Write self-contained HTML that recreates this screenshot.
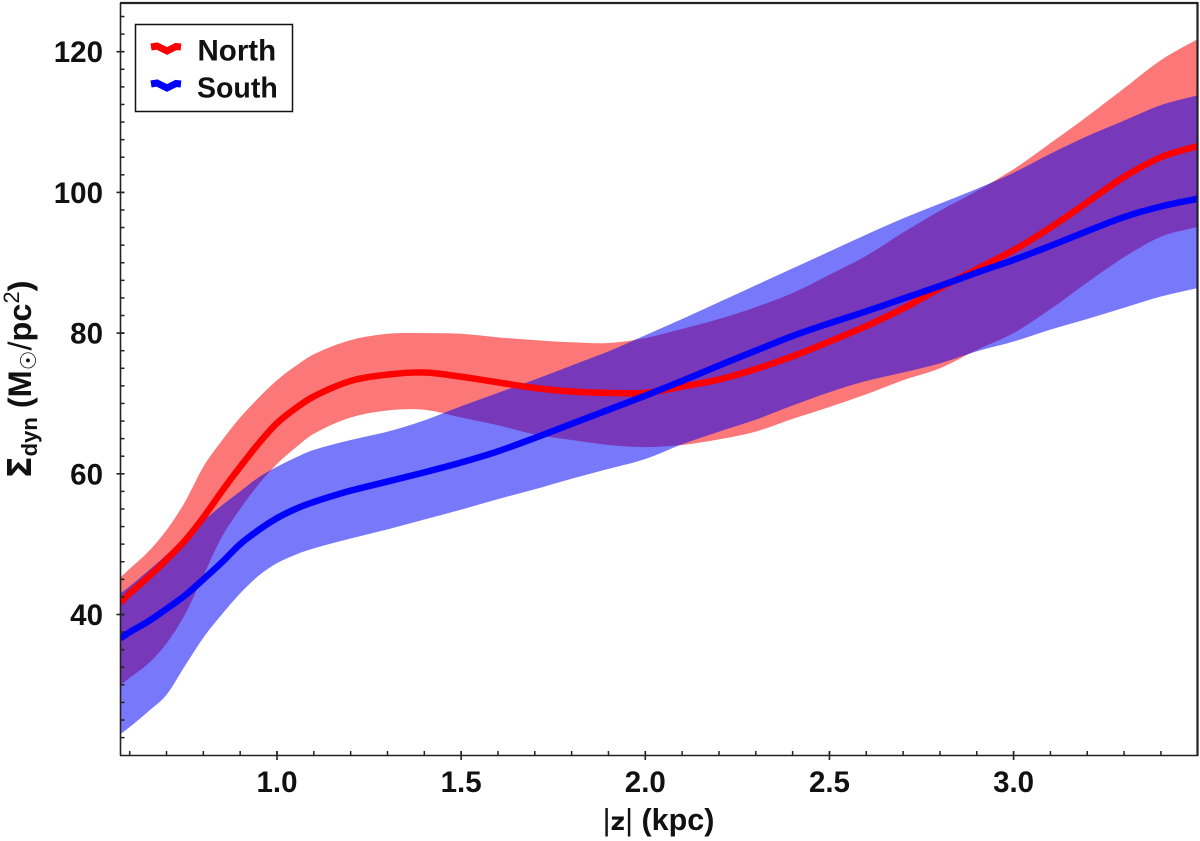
<!DOCTYPE html>
<html>
<head>
<meta charset="utf-8">
<title>Dynamical surface density</title>
<style>
html,body{margin:0;padding:0;background:#fff}
svg{display:block}
text{font-family:"Liberation Sans","DejaVu Sans",sans-serif;font-weight:bold;fill:#111}
</style>
</head>
<body>
<svg id="chart" xmlns="http://www.w3.org/2000/svg" width="1200" height="841" viewBox="0 0 1200 841">
  <defs><clipPath id="plot-clip"><rect x="120.5" y="3" width="1077" height="752.5"/></clipPath></defs>
  <g id="bands" clip-path="url(#plot-clip)"></g>
  <g id="lines" clip-path="url(#plot-clip)"></g>
  <g id="axes"></g>
  <g>
    <rect x="135.5" y="24.5" width="157" height="87" fill="#fff" stroke="#111" stroke-width="1.5"/>
    <polyline points="151,47 157,46 167,51 176,46.5 181,47" fill="none" stroke="#f00" stroke-width="7"/>
    <text x="197.5" y="60.5" font-size="29.5">North</text>
    <polyline points="151,84 157,83 167,88 176,83.5 181,84" fill="none" stroke="#00f" stroke-width="7"/>
    <text x="197" y="97.5" font-size="28.5">South</text>
  </g>
  <text x="658.5" y="830" font-size="30.5" text-anchor="middle"><tspan font-weight="normal">|</tspan><tspan font-family="'DejaVu Sans',sans-serif" font-size="25">z</tspan><tspan font-weight="normal">|</tspan> (kpc)</text>
  <text transform="translate(31,379.5) rotate(-90)" font-size="32.5" text-anchor="middle"><tspan font-family="'DejaVu Sans',sans-serif">Σ</tspan><tspan font-size="22" dy="6">dyn</tspan><tspan dy="-6"> (M</tspan><tspan font-size="22" dy="5" font-family="'DejaVu Sans',sans-serif" font-weight="normal">☉</tspan><tspan dy="-5" font-weight="normal">/</tspan><tspan>pc</tspan><tspan font-size="22" dy="-12" font-weight="normal">2</tspan><tspan dy="12">)</tspan></text>
</svg>
<script>
const zGrid = [0.575,0.6,0.65,0.7,0.75,0.8,0.85,0.9,0.95,1.0,1.05,1.1,1.2,1.3,1.4,1.5,1.6,1.7,1.8,1.9,2.0,2.1,2.2,2.3,2.4,2.5,2.6,2.7,2.8,2.9,3.0,3.1,3.2,3.3,3.4,3.5];
const northMid = [41.7,43,45.3,47.8,50.5,53.8,57.5,61,64.3,67.2,69.3,71,73.2,74.1,74.4,73.8,73,72.2,71.7,71.5,71.5,72.4,73.4,74.9,76.7,78.8,81,83.5,86.4,89.1,91.8,95,98.6,102.2,105,106.6];
const northUpper = [45.3,46.5,48.9,52,56,61,64.7,68,70.8,73.3,75.3,77,79,79.9,80,79.9,79.4,79,78.7,78.6,79.3,80.6,82,83.7,85.7,88.3,91,94.3,97.4,100.2,103.3,107,110.8,114.8,118.8,121.8];
const northLower = [30,31,33,35.9,40,45.5,51,55,58.5,61.4,63.7,65.7,68,69,69.1,68,66.9,65.6,64.8,64.1,63.8,64.1,64.9,66,67.8,69.5,71.3,73.3,75,77.6,80,83.4,87.2,90.8,93.7,95.1];
const southMid = [36.6,37.5,39,40.8,42.7,45,47.4,50,52,53.7,55,56,57.6,58.9,60.2,61.6,63.2,65.1,67.1,69.1,71.1,73.2,75.4,77.5,79.6,81.4,83.1,84.9,86.7,88.6,90.4,92.4,94.5,96.5,98,99.1];
const southUpper = [43,44,46.2,48.5,51,53.3,55.5,57.5,59.5,61,62.3,63.4,64.8,66,67.6,69.6,71.5,73.4,75.4,77.4,79.7,82,84.4,86.8,89.2,91.6,94,96.3,98.4,100.5,102.8,105.5,108,110.2,112.4,113.8];
const southLower = [23,24,26.2,28.6,32.7,36.7,40,43,45.5,47.3,48.5,49.4,50.8,52.1,53.5,54.9,56.4,57.8,59.3,60.7,62.1,64.2,66,67.7,69.7,71.6,73.2,74.4,75.7,77.4,78.8,80.5,82,83.6,85.2,86.4];
const yTickValues = [40,60,80,100,120];
const xTickValues = [1.0,1.5,2.0,2.5,3.0];
const xTickLabels = ["1.0","1.5","2.0","2.5","3.0"];

const NS = "http://www.w3.org/2000/svg";
const xScale = z => 277 + (z - 1) * 368.3;
const yScale = v => 614.5 - (v - 40) * 7.035;

function smoothSegments(xs, ys) {
  let d = "";
  for (let i = 0; i < xs.length - 1; i++) {
    const i0 = Math.max(i - 1, 0), i3 = Math.min(i + 2, xs.length - 1);
    const h = xs[i + 1] - xs[i];
    const m1 = (ys[i + 1] - ys[i0]) / (xs[i + 1] - xs[i0]);
    const m2 = (ys[i3] - ys[i]) / (xs[i3] - xs[i]);
    d += "C" + (xs[i] + h / 3).toFixed(2) + " " + (ys[i] + m1 * h / 3).toFixed(2) + " " +
         (xs[i + 1] - h / 3).toFixed(2) + " " + (ys[i + 1] - m2 * h / 3).toFixed(2) + " " +
         xs[i + 1].toFixed(2) + " " + ys[i + 1].toFixed(2);
  }
  return d;
}
function linePath(values) {
  const xs = zGrid.map(xScale), ys = values.map(yScale);
  return "M" + xs[0].toFixed(2) + " " + ys[0].toFixed(2) + smoothSegments(xs, ys);
}
function bandPath(upper, lower) {
  const xs = zGrid.map(xScale), yu = upper.map(yScale), yl = lower.map(yScale);
  const n = xs.length - 1;
  return "M" + xs[0].toFixed(2) + " " + yu[0].toFixed(2) + smoothSegments(xs, yu) +
    "L" + xs[n].toFixed(2) + " " + yl[n].toFixed(2) +
    smoothSegments(xs.slice().reverse(), yl.slice().reverse()) + "Z";
}
const bands = document.getElementById("bands");
const lines = document.getElementById("lines");
const axes = document.getElementById("axes");

const northBand = document.createElementNS(NS, "path");


northBand.setAttribute("d", bandPath(northUpper, northLower));
northBand.setAttribute("fill", "rgba(250,0,0,0.53)");
bands.appendChild(northBand);

const southBand = document.createElementNS(NS, "path");


southBand.setAttribute("d", bandPath(southUpper, southLower));
southBand.setAttribute("fill", "rgba(0,0,245,0.53)");
bands.appendChild(southBand);

const northLine = document.createElementNS(NS, "path");


northLine.setAttribute("d", linePath(northMid));
northLine.setAttribute("fill", "none");
northLine.setAttribute("stroke", "#f00");
northLine.setAttribute("stroke-width", "6.5");
lines.appendChild(northLine);

const southLine = document.createElementNS(NS, "path");


southLine.setAttribute("d", linePath(southMid));
southLine.setAttribute("fill", "none");
southLine.setAttribute("stroke", "#00f");
southLine.setAttribute("stroke-width", "6.5");
lines.appendChild(southLine);

function addSeg(x1, y1, x2, y2, w, name) {
  const l = document.createElementNS(NS, "line");
  
  
  l.setAttribute("x1", x1); l.setAttribute("y1", y1);
  l.setAttribute("x2", x2); l.setAttribute("y2", y2);
  l.setAttribute("stroke", "#222");
  l.setAttribute("stroke-width", w);
  axes.appendChild(l);
}
addSeg(120.5, 3, 120.5, 755.5, 1.6, "y-axis-line");
addSeg(120, 755.5, 1198, 755.5, 1.6, "x-axis-line");
addSeg(120, 3, 1198, 3, 2.2, "top-frame-line");
addSeg(1197.5, 2, 1197.5, 756, 2.2, "right-frame-line");

for (let t = 1; t * 0.1 + 0.5 < 3.51; t++) {
  const z = 0.5 + t * 0.1;
  const px = xScale(z);
  if (px < 125) continue;
  addSeg(px, 751, px, 755.5, 1.5, "x-minor-tick");
}
for (let t = 0; 22.5 + t * 2.5 < 127; t++) {
  const v = 22.5 + t * 2.5;
  addSeg(120.5, yScale(v), 124.5, yScale(v), 1.5, "y-minor-tick");
}
xTickValues.forEach((v, i) => {
  addSeg(xScale(v), 751, xScale(v), 760, 1.6, "x-major-tick");
  const t = document.createElementNS(NS, "text");
  
  
  t.setAttribute("x", xScale(v));
  t.setAttribute("y", 792);
  t.setAttribute("font-size", "29.5");
  t.setAttribute("text-anchor", "middle");
  t.textContent = xTickLabels[i];
  axes.appendChild(t);
});
yTickValues.forEach(v => {
  addSeg(116.5, yScale(v), 124.5, yScale(v), 1.6, "y-major-tick");
  const t = document.createElementNS(NS, "text");
  
  
  t.setAttribute("x", 103);
  t.setAttribute("y", yScale(v) + 10.5);
  t.setAttribute("font-size", "29.5");
  t.setAttribute("text-anchor", "end");
  t.textContent = String(v);
  axes.appendChild(t);
});
</script>
</body>
</html>
